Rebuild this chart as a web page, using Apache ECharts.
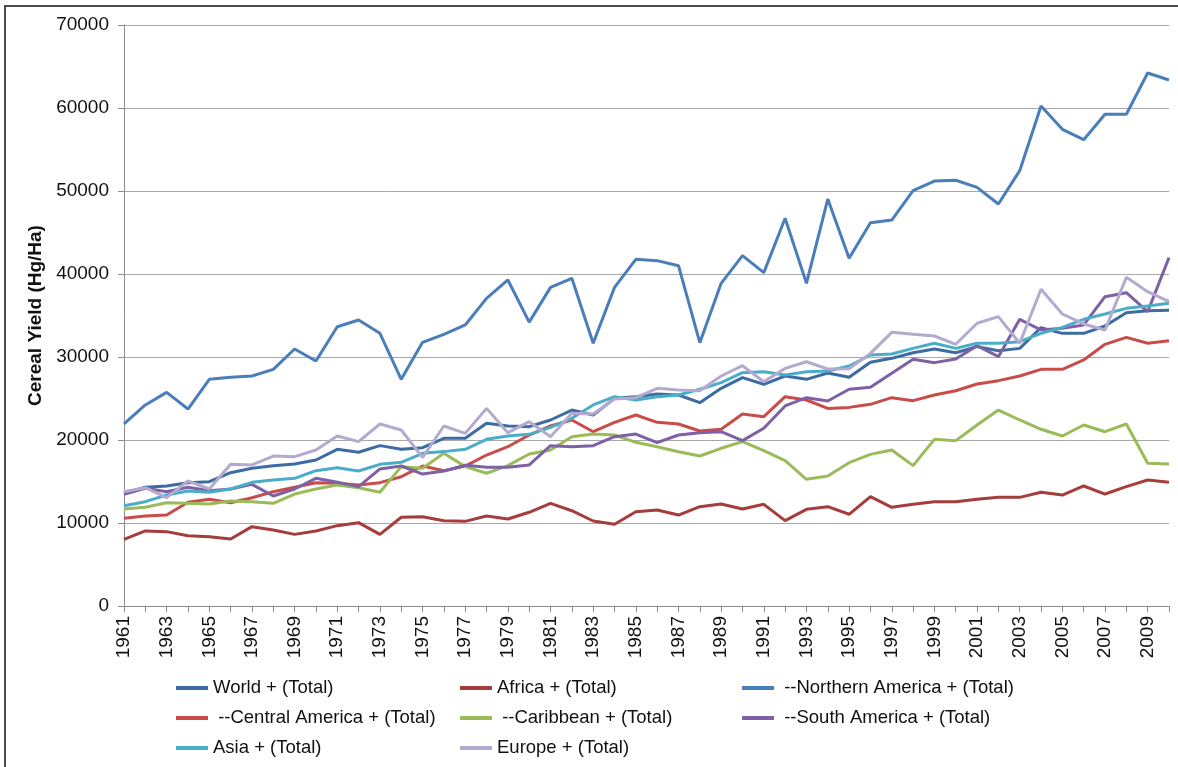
<!DOCTYPE html>
<html>
<head>
<meta charset="utf-8">
<script src="https://cdn.jsdelivr.net/npm/echarts@6/dist/echarts.min.js"></script>
<style>
html,body{margin:0;padding:0;background:#fff;}
#chart{width:1178px;height:767px;}
</style>
</head>
<body>
<div id="chart"></div>
<script>
const years = [];
for (let y = 1961; y <= 2010; y++) years.push(String(y));

const seriesNames = [
  'World + (Total)',
  'Africa + (Total)',
  ' --Northern America + (Total)',
  ' --Central America + (Total)',
  ' --Caribbean + (Total)',
  ' --South America + (Total)',
  'Asia + (Total)',
  'Europe + (Total)'
];

const world = [13600,14300,14460,14860,14980,16060,16590,16910,17110,17590,18880,18520,19320,18880,19080,20210,20210,22010,21690,21610,22410,23610,23010,25020,25220,25540,25420,24500,26230,27510,26710,27710,27310,28070,27550,29360,29840,30520,30960,30520,31250,30760,31040,33530,32850,32850,33730,35330,35580,35620];
const africa = [8030,9040,8960,8470,8350,8070,9560,9160,8630,9040,9680,10040,8630,10690,10760,10280,10200,10840,10480,11290,12370,11480,10240,9840,11360,11570,10960,11970,12290,11690,12250,10280,11650,11970,11050,13170,11890,12250,12570,12570,12850,13090,13090,13700,13370,14460,13490,14380,15180,14900];
const northAmerica = [21930,24220,25740,23730,27310,27550,27710,28510,30960,29520,33650,34460,32850,27310,31770,32730,33860,37070,39280,34200,38390,39480,31650,38390,41770,41610,41000,31720,38880,42210,40160,46710,38880,49030,41890,46180,46500,50040,51200,51290,50440,48430,52450,60240,57430,56180,59240,59240,64220,63370];
const centralAmerica = [10570,10840,10960,12490,12850,12450,13050,13770,14300,14860,14780,14580,14860,15580,16870,16300,16850,18190,19190,20600,21690,22410,21000,22130,23010,22130,21930,21080,21290,23130,22810,25220,24820,23810,23930,24300,25100,24740,25420,25940,26750,27150,27710,28510,28510,29640,31530,32370,31650,31970];
const caribbean = [11690,11890,12450,12370,12290,12650,12570,12370,13490,14100,14580,14250,13700,16790,16590,18400,16790,15990,16910,18310,18800,20400,20720,20600,19720,19190,18590,18070,19000,19800,18710,17510,15260,15660,17270,18270,18800,16910,20080,19920,21810,23610,22410,21290,20480,21810,21000,21930,17190,17110];
const southAmerica = [13460,14180,13770,14300,13890,14100,14660,13250,14100,15380,14900,14380,16510,16870,15900,16260,16950,16710,16710,16990,19320,19190,19320,20400,20720,19680,20600,20880,21000,19920,21410,24100,25100,24700,26110,26350,28030,29720,29320,29760,31370,30040,34540,33250,33450,33860,37270,37750,35460,41970];
const asia = [12080,12570,13370,13860,13700,14100,14900,15180,15380,16300,16660,16260,17070,17310,18400,18600,18880,20080,20480,20680,21530,22610,24220,25220,24820,25220,25420,26110,26910,28110,28230,27830,28230,28310,28920,30240,30360,31040,31650,31040,31650,31650,31850,32850,33570,34540,35180,35860,36140,36470];
const europe = [13770,14250,13050,15060,14100,17070,16990,18070,17990,18800,20480,19800,21930,21210,17910,21690,20800,23810,20880,22210,20400,23210,23130,24940,25100,26230,26020,25940,27710,28950,27020,28630,29430,28550,28590,30440,32970,32730,32530,31530,34060,34860,31650,38160,35180,33980,33250,39600,37870,36660];

const allData = [world, africa, northAmerica, centralAmerica, caribbean, southAmerica, asia, europe];
const colors = ['#3C6CA2','#A43D3B','#4A7EBB','#C94C48','#9ABB58','#7D60A6','#4AADC8','#B4AAD0'];

const yTitle = 'Cereal Yield (Hg/Ha)';
const FONT = '"Liberation Sans", Arial, sans-serif';

const chart = echarts.init(document.getElementById('chart'), null, {renderer:'canvas'});

const legendCols = [
  {left: 176, names: [seriesNames[0], seriesNames[3], seriesNames[6]]},
  {left: 460, names: [seriesNames[1], seriesNames[4], seriesNames[7]]},
  {left: 742, names: [seriesNames[2], seriesNames[5]]}
];

const option = {
  backgroundColor: '#fff',
  animation: false,
  color: colors,
  textStyle: {fontFamily: FONT},
  grid: {left: 124, top: 25, right: 9, bottom: 161, containLabel: false},
  graphic: [{
    type: 'rect',
    shape: {x: 5, y: 6, width: 1180, height: 800},
    style: {fill: 'none', stroke: '#4d4d4d', lineWidth: 2},
    silent: true, z: 100
  }],
  legend: legendCols.map(c => ({
    orient: 'vertical',
    left: c.left,
    top: 678,
    data: c.names,
    icon: 'rect',
    itemWidth: 32,
    itemHeight: 4,
    itemGap: 10,
    textStyle: {fontFamily: FONT, fontSize: 18.5, color: '#111', lineHeight: 20},
    padding: 0
  })),
  xAxis: {
    type: 'category',
    data: years,
    boundaryGap: false,
    axisLine: {lineStyle: {color: '#8c8c8c', width: 1}},
    axisTick: {show: true, interval: 0, length: 6, lineStyle: {color: '#8c8c8c'}},
    axisLabel: {
      interval: 1,
      rotate: 90,
      margin: 10,
      fontFamily: FONT,
      fontSize: 19,
      color: '#111'
    },
    splitLine: {show: false}
  },
  yAxis: {
    type: 'value',
    min: 0,
    max: 70000,
    interval: 10000,
    name: yTitle,
    nameLocation: 'middle',
    nameGap: 72,
    nameRotate: 90,
    nameTextStyle: {fontFamily: FONT, fontSize: 19, fontWeight: 'bold', color: '#111'},
    axisLine: {show: true, lineStyle: {color: '#8c8c8c', width: 1}},
    axisTick: {show: true, length: 6, lineStyle: {color: '#8c8c8c'}},
    axisLabel: {margin: 15, fontFamily: FONT, fontSize: 19, color: '#111', formatter: v => String(v)},
    splitLine: {show: true, lineStyle: {color: '#a8a8a8', width: 1}}
  },
  series: seriesNames.map((n, i) => ({
    name: n,
    type: 'line',
    data: allData[i],
    symbol: 'none',
    showSymbol: false,
    lineStyle: {width: 3, color: colors[i]},
    itemStyle: {color: colors[i]},
    z: 2 + i
  }))
};

chart.setOption(option);
</script>
</body>
</html>
